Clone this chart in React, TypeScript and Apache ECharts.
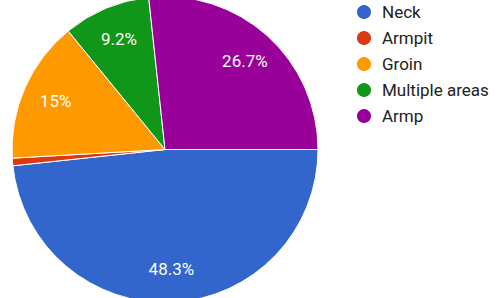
import React, { useEffect, useRef } from "react";
import * as echarts from "echarts";

const categories = ["Neck", "Armpit", "Groin", "Multiple areas", "Armp"];
const values = [48.3, 0.8, 15, 9.2, 26.7];
const colors = ["#3366cc", "#dc3912", "#ff9900", "#109618", "#990099"];

export default function App() {
  const ref = useRef<HTMLDivElement>(null);
  useEffect(() => {
    if (!ref.current) return;
    const chart = echarts.init(ref.current, null, { renderer: "svg" });
    const data = categories.map((name, i) => ({ name, value: values[i] }));
    chart.setOption({
      animation: false,
      color: colors,
      legend: {
        orient: "vertical",
        left: 355,
        top: 3,
        padding: 0,
        icon: "circle",
        itemWidth: 16,
        itemHeight: 16,
        itemGap: 8,
        data: categories,
        textStyle: {
          fontFamily: "Roboto",
          fontSize: 17,
          lineHeight: 18,
          color: "#222222",
          padding: [0, 0, 0, 5],
        },
      },
      series: [
        {
          type: "pie",
          center: [165, 149.5],
          radius: [0, 153],
          startAngle: 0,
          clockwise: true,
          silent: true,
          data,
          label: { show: false },
          labelLine: { show: false },
          itemStyle: { borderColor: "#ffffff", borderWidth: 1 },
        },
        {
          type: "pie",
          center: [165, 149.5],
          radius: [80, 153],
          startAngle: 0,
          clockwise: true,
          silent: true,
          data,
          itemStyle: { color: "rgba(0,0,0,0)", borderWidth: 0 },
          label: {
            show: true,
            position: "inside",
            fontFamily: "Roboto",
            fontSize: 17,
            color: "#ffffff",
            formatter: (p: any) => (p.value < 2 ? "" : p.value + "%"),
          },
          labelLine: { show: false },
        },
      ],
    });
    return () => chart.dispose();
  }, []);
  return <div ref={ref} style={{ width: 501, height: 298, position: "absolute", left: 0, top: 0 }} />;
}
